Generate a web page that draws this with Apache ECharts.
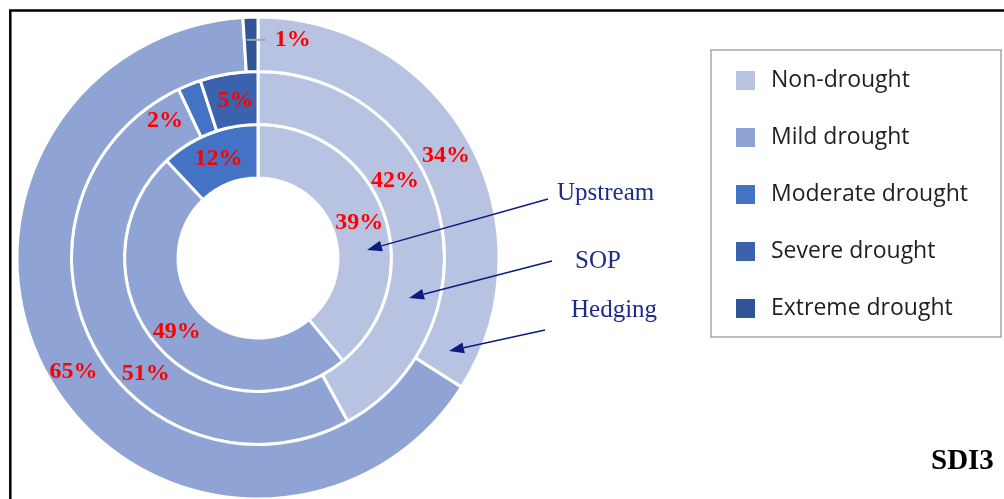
<!DOCTYPE html>
<html>
<head>
<meta charset="utf-8">
<script src="https://cdn.jsdelivr.net/npm/echarts@6/dist/echarts.min.js"></script>
<style>
html,body{margin:0;padding:0;background:#fff;}
#chart{width:1004px;height:499px;}
</style>
</head>
<body>
<div id="chart"></div>
<script>
// ---- data ----
const categories = ['Non-drought', 'Mild drought', 'Moderate drought', 'Severe drought', 'Extreme drought'];
const upstreamValues = [39, 49, 12, 0, 0];
const sopValues = [42, 51, 2, 5, 0];
const hedgingValues = [34, 65, 0, 0, 1];
const ringNames = ['Upstream', 'SOP', 'Hedging'];
const panelTitle = 'SDI3';

// ---- styling ----
const colors = {
  'Non-drought': '#B8C3E2',
  'Mild drought': '#8FA4D4',
  'Moderate drought': '#4472C4',
  'Severe drought': '#3B63AD',
  'Extreme drought': '#2F5597'
};
const center = [258, 258];
const radii = [[80, 133.5], [133.5, 186.5], [186.5, 241]];
// label nudges (dx, dy) per ring per category
const labelShift = [
  { 'Non-drought': [-2, 2], 'Mild drought': [1, 1], 'Moderate drought': [1, 3] },
  { 'Non-drought': [-21, -37], 'Mild drought': [33, 42], 'Moderate drought': [-33, 14], 'Severe drought': [3, 4] },
  { 'Non-drought': [-2, 2], 'Mild drought': [2, 3], 'Extreme drought': [27.5, -1.5] }
];
const serif = '"Liberation Serif", "Times New Roman", serif';

function ringData(values) {
  return categories.map((n, i) => ({ name: n, value: values[i], itemStyle: { color: colors[n] } }))
    .filter(d => d.value > 0);
}

const ringValues = [upstreamValues, sopValues, hedgingValues];
const series = ringValues.map((vals, si) => {
  const data = ringData(vals);
  data.forEach(d => {
    if (d.name === 'Extreme drought') {
      d.label = {
        formatter: p => '{l|}{v|' + p.value + '%}',
        rich: {
          l: { width: 19, height: 2, backgroundColor: '#A6A6A6' },
          v: { color: '#FF0000', fontSize: 24, fontWeight: 'bold', fontFamily: serif, padding: [0, 0, 0, 9] }
        }
      };
    }
  });
  return {
    type: 'pie',
    name: ringNames[si],
    center: center,
    radius: radii[si],
    startAngle: 90,
    clockwise: true,
    avoidLabelOverlap: false,
    animation: false,
    silent: true,
    itemStyle: { borderColor: '#ffffff', borderWidth: 3 },
    label: {
      show: true,
      position: 'inside',
      formatter: '{c}%',
      color: '#FF0000',
      fontSize: 24,
      fontWeight: 'bold',
      fontFamily: serif
    },
    labelLine: { show: false },
    labelLayout: function (params) {
      const name = data[params.dataIndex].name;
      const s = labelShift[si][name];
      return s ? { dx: s[0], dy: s[1] } : {};
    },
    data: data
  };
});

// ---- annotation arrows ----
const arrowColor = '#0D1A7E';
const textColor = '#1E2B8C';
const arrows = [
  { from: [548, 199], to: [367, 250] },
  { from: [552, 261], to: [409, 298] },
  { from: [545, 330], to: [449, 351] }
];
const ringLabelPos = [[557, 193], [575, 261], [571, 310]];

const graphics = [];
graphics.push({
  type: 'rect', z: 0,
  shape: { x: 10.3, y: 10.5, width: 1100, height: 600 },
  style: { fill: null, stroke: '#000', lineWidth: 2.5 }
});
arrows.forEach(a => {
  const [x1, y1] = a.from, [x2, y2] = a.to;
  const ang = Math.atan2(y2 - y1, x2 - x1);
  const L = 15, W = 5.5;
  const bx = x2 - L * Math.cos(ang), by = y2 - L * Math.sin(ang);
  const px = -Math.sin(ang) * W, py = Math.cos(ang) * W;
  graphics.push({
    type: 'line', z: 10,
    shape: { x1: x1, y1: y1, x2: bx, y2: by },
    style: { stroke: arrowColor, lineWidth: 1.4 }
  });
  graphics.push({
    type: 'polygon', z: 10,
    shape: { points: [[x2, y2], [bx + px, by + py], [bx - px, by - py]] },
    style: { fill: arrowColor }
  });
});
ringNames.forEach((n, i) => {
  graphics.push({
    type: 'text', z: 10,
    x: ringLabelPos[i][0], y: ringLabelPos[i][1],
    style: { text: n, fill: textColor, font: '25px ' + serif, textVerticalAlign: 'middle', textAlign: 'left' }
  });
});
graphics.push({
  type: 'text', z: 10,
  x: 931, y: 462,
  style: { text: panelTitle, fill: '#000', font: 'bold 29px ' + serif, textVerticalAlign: 'middle', textAlign: 'left' }
});

const chart = echarts.init(document.getElementById('chart'), null, { renderer: 'canvas' });
chart.setOption({
  animation: false,
  backgroundColor: '#ffffff',
  legend: {
    orient: 'vertical',
    left: 711,
    top: 50,
    data: categories,
    icon: 'rect',
    itemWidth: 19,
    itemHeight: 19,
    itemGap: 34,
    padding: [19, 33, 17, 25],
    borderColor: '#A6A6A6',
    borderWidth: 1.5,
    selectedMode: false,
    itemStyle: { borderWidth: 0 },
    textStyle: {
      fontFamily: '"Open Sans", "Noto Sans", sans-serif',
      fontSize: 23,
      color: '#1F1F1F',
      lineHeight: 21,
      padding: [0, 0, 0, 11]
    }
  },
  graphic: graphics,
  series: series
});
</script>
</body>
</html>
